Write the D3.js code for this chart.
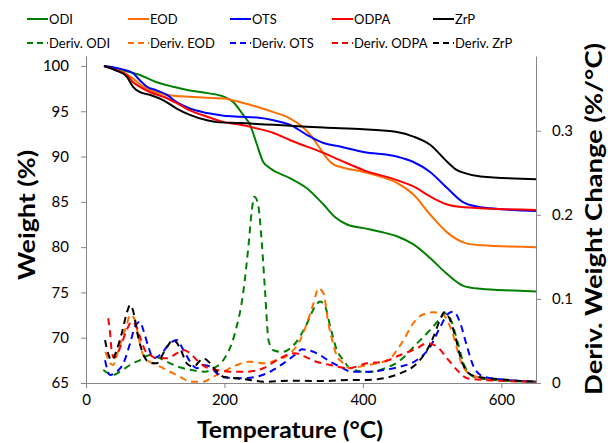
<!DOCTYPE html>
<html>
<head>
<meta charset="utf-8">
<script src="https://cdn.jsdelivr.net/npm/d3@7/dist/d3.min.js"></script>
<style>
  html, body { margin: 0; padding: 0; background: #fff; }
  svg { display: block; font-family: Lato, "Open Sans", sans-serif; }
</style>
</head>
<body>
<svg id="chart" width="608" height="443"></svg>
<script>
// Thermogravimetric weight curves (Temperature °C, Weight %)
const wODI  = [[26,100],[54,99.5],[78,99.0],[102,98.2],[126,97.7],[150,97.3],[175,97.0],[199,96.6],[213,96.0],[227,94.6],[237,93.5],[247,91.3],[256,89.4],[266,88.7],[295,87.6],[319,86.5],[343,84.7],[360,83.3],[377,82.5],[401,82.1],[425,81.7],[449,81.2],[473,80.3],[497,78.8],[522,77.0],[546,75.7],[570,75.4],[618,75.2],[650,75.1]];
const wEOD  = [[26,100],[54,99.3],[68,98.6],[83,97.7],[102,97.1],[126,96.7],[150,96.6],[175,96.5],[199,96.4],[223,96.0],[247,95.5],[271,94.9],[295,94.2],[309,93.5],[324,92.4],[338,90.9],[348,89.8],[358,89.1],[370,88.8],[401,88.3],[425,87.8],[449,87.1],[473,85.8],[497,83.6],[522,81.6],[546,80.5],[570,80.2],[650,80.0]];
const wOTS  = [[26,100],[54,99.6],[68,99.2],[78,98.4],[88,97.7],[102,97.3],[117,96.8],[131,96.0],[150,95.3],[175,94.8],[199,94.5],[223,94.4],[247,94.3],[271,94.0],[295,93.5],[319,92.4],[343,91.5],[367,91.1],[401,90.5],[449,90.0],[473,89.4],[497,88.3],[522,86.5],[546,84.9],[570,84.4],[650,84.0]];
const wODPA = [[26,100],[44,99.5],[59,99.0],[68,98.2],[78,97.7],[93,97.1],[112,96.6],[131,95.9],[150,95.1],[175,94.4],[199,93.8],[223,93.5],[247,93.1],[271,92.6],[295,91.8],[319,91.1],[343,90.4],[367,89.6],[401,88.5],[449,87.4],[473,86.7],[497,85.6],[522,84.7],[546,84.4],[650,84.1]];
const wZrP  = [[26,100],[44,99.5],[59,98.8],[68,97.7],[78,97.1],[93,96.8],[112,96.2],[131,95.3],[150,94.6],[175,94.0],[189,93.8],[223,93.7],[247,93.6],[271,93.5],[295,93.4],[319,93.3],[343,93.2],[401,93.0],[449,92.7],[473,92.2],[497,91.3],[522,89.4],[536,88.5],[546,88.2],[570,87.8],[650,87.5]];

// Derivative weight change curves (Temperature °C, %/°C)
const dODI  = [[25,0.0155],[39.5,0.0095],[49,0.0134],[63.6,0.0214],[78,0.0273],[92.5,0.0333],[102,0.031],[116.7,0.0253],[133,0.0194],[152,0.0155],[172,0.0134],[184,0.0175],[198.5,0.0273],[215,0.059],[227,0.107],[235,0.166],[239.6,0.206],[243.3,0.2215],[248.2,0.2137],[254,0.166],[258.8,0.107],[263.6,0.051],[270.8,0.039],[283,0.037],[302,0.047],[317,0.067],[331,0.091],[338,0.097],[345.5,0.091],[352.8,0.067],[362.4,0.039],[372,0.027],[382,0.017],[406,0.013],[430,0.017],[454,0.027],[478,0.047],[497,0.063],[512,0.077],[519,0.083],[526,0.077],[536,0.051],[545.5,0.023],[560,0.0075],[584,0.004],[650,0.0015]];
const dEOD  = [[28,0.037],[37,0.022],[39.5,0.0214],[44.4,0.033],[51.6,0.051],[58.8,0.069],[63.6,0.081],[70.8,0.075],[75.6,0.055],[82.8,0.033],[92.5,0.025],[107,0.0194],[121.4,0.0134],[135.9,0.0075],[150.4,0.0015],[169.6,0.0015],[184,0.0075],[198.5,0.0134],[218,0.0214],[237,0.0253],[256.3,0.0234],[275.7,0.0273],[295,0.0353],[309.4,0.051],[319,0.0709],[328.6,0.0948],[335.8,0.1126],[343,0.1067],[350.3,0.07],[357.5,0.045],[362.4,0.032],[369.7,0.025],[381.7,0.0175],[405.8,0.0214],[429.8,0.0253],[442,0.0313],[449.2,0.0392],[458.7,0.051],[470.9,0.069],[485.3,0.0809],[502.1,0.0841],[514.2,0.0829],[521.5,0.0749],[531,0.0551],[540.7,0.0273],[552.7,0.0115],[574.4,0.0056],[598.5,0.0036],[650,0.0015]];
const dOTS  = [[27.5,0.027],[34.7,0.0095],[44.4,0.0134],[54,0.0234],[63.6,0.047],[70.8,0.067],[78,0.0729],[82.8,0.063],[90,0.0432],[97.3,0.0294],[107,0.0333],[121.4,0.0472],[131.1,0.0511],[140.7,0.0392],[150.4,0.0253],[160,0.0175],[169.6,0.0214],[179.3,0.0194],[189,0.0115],[198.5,0.0068],[222.6,0.0056],[246.8,0.0075],[266,0.0134],[285.2,0.0234],[304.6,0.0353],[311.8,0.040],[333.5,0.0353],[352.8,0.0253],[367,0.0194],[384,0.0134],[405.8,0.0134],[429.8,0.0155],[454,0.0194],[478,0.0273],[497.3,0.0432],[511.8,0.0669],[523.8,0.0829],[531,0.0848],[540.7,0.071],[550.4,0.0432],[560,0.0194],[574.4,0.0075],[598.5,0.0044],[650,0.0015]];
const dODPA = [[32,0.077],[34.5,0.062],[37.6,0.035],[41,0.03],[51.6,0.0472],[58.8,0.063],[66,0.0729],[73,0.0669],[78,0.055],[85,0.0392],[92.5,0.0333],[102,0.0294],[116.7,0.0294],[131.1,0.0353],[140.7,0.0392],[150.4,0.0353],[160,0.0273],[172,0.0194],[189,0.0155],[208,0.0134],[232,0.0134],[256,0.0175],[276,0.0273],[290,0.0333],[302,0.0353],[316,0.0313],[333,0.0253],[352.8,0.0214],[379,0.0175],[405.8,0.0234],[429.8,0.0253],[454,0.0333],[478,0.0413],[492.6,0.0472],[507,0.0432],[521.5,0.0294],[535.9,0.0155],[550.4,0.0056],[574.4,0.0036],[650,0.0015]];
const dZrP  = [[27.5,0.051],[32,0.035],[37,0.0273],[44.4,0.0392],[51.6,0.059],[58.8,0.0829],[63.6,0.0927],[68.4,0.0848],[73.3,0.063],[80.5,0.0392],[90,0.0253],[102.2,0.0234],[114.2,0.0392],[126.2,0.0511],[135.9,0.0413],[145.6,0.0234],[155.1,0.0194],[169.6,0.0294],[179.3,0.0234],[189,0.0134],[198.5,0.0075],[217.9,0.0056],[237,0.0036],[256,0.0015],[295,0.0027],[343,0.0024],[381.7,0.0036],[405.8,0.0036],[429.8,0.0056],[454,0.0115],[478,0.0234],[492.6,0.0392],[502,0.0551],[509.3,0.071],[518,0.0841],[526,0.0749],[533.5,0.0551],[540.7,0.0313],[550.4,0.0134],[564.8,0.0075],[598.5,0.0044],[650,0.0015]];

const seriesNames = ["ODI", "EOD", "OTS", "ODPA", "ZrP"];
const seriesColors = ["#008000", "#ff6f00", "#0000ff", "#ff0000", "#000000"];
const weightData = [wODI, wEOD, wOTS, wODPA, wZrP];
const derivData = [dODI, dEOD, dOTS, dODPA, dZrP];

const xTicks = [0, 200, 400, 600];
const yLeftTicks = [65, 70, 75, 80, 85, 90, 95, 100];
const yRightTicks = [0, 0.1, 0.2, 0.3];

const svg = d3.select("#chart");
const plot = { left: 86, right: 536, top: 56, bottom: 383 };

const x = d3.scaleLinear().domain([0, 650]).range([plot.left, plot.right]);
const yL = d3.scaleLinear().domain([65, 101.1]).range([plot.bottom, plot.top]);
const yR = d3.scaleLinear().domain([0, 0.3889]).range([plot.bottom, plot.top]);

const axisColor = "#878787";
const tickFont = 15;

function styleAxis(g) {
  g.selectAll(".domain").attr("stroke", axisColor).attr("stroke-width", 1);
  g.selectAll(".tick line").attr("stroke", axisColor).attr("stroke-width", 1);
  g.selectAll(".tick text").attr("fill", "#000").style("font-size", tickFont + "px")
    .style("font-family", "Lato, 'Open Sans', sans-serif");
}

// Axes
const gx = svg.append("g").attr("transform", `translate(0,${plot.bottom})`)
  .call(d3.axisBottom(x).tickValues(xTicks).tickSize(5).tickSizeOuter(0).tickPadding(6).tickFormat(d3.format("d")));
styleAxis(gx);

const gyl = svg.append("g").attr("transform", `translate(${plot.left},0)`)
  .call(d3.axisLeft(yL).tickValues(yLeftTicks).tickSize(5).tickSizeOuter(0).tickPadding(12).tickFormat(d3.format("d")));
styleAxis(gyl);

const gyr = svg.append("g").attr("transform", `translate(${plot.right},0)`)
  .call(d3.axisRight(yR).tickValues(yRightTicks).tickSize(5).tickSizeOuter(0).tickPadding(11)
    .tickFormat(d => d === 0 ? "0" : d3.format(".1f")(d)));
styleAxis(gyr);

// Curves
const lineL = d3.line().x(d => x(d[0])).y(d => yL(d[1])).curve(d3.curveMonotoneX);
const lineR = d3.line().x(d => x(d[0])).y(d => yR(d[1])).curve(d3.curveMonotoneX);

const curves = svg.append("g").attr("fill", "none").attr("stroke-linejoin", "round");

derivData.forEach((data, i) => {
  curves.append("path").datum(data)
    .attr("d", lineR)
    .attr("stroke", seriesColors[i])
    .attr("stroke-width", 2)
    .attr("stroke-dasharray", "7,5");
});
weightData.forEach((data, i) => {
  curves.append("path").datum(data)
    .attr("d", lineL)
    .attr("stroke", seriesColors[i])
    .attr("stroke-width", 2);
});

// Axis titles
svg.append("text")
  .attr("transform", `translate(35,215) rotate(-90)`)
  .attr("text-anchor", "middle")
  .attr("textLength", 130).attr("lengthAdjust", "spacingAndGlyphs")
  .style("font-weight", "bold").style("font-size", "23px")
  .text("Weight (%)");

svg.append("text")
  .attr("x", 290).attr("y", 438)
  .attr("text-anchor", "middle")
  .attr("textLength", 186).attr("lengthAdjust", "spacingAndGlyphs")
  .style("font-weight", "bold").style("font-size", "23px")
  .text("Temperature (°C)");

svg.append("text")
  .attr("transform", `translate(602,219) rotate(-90)`)
  .attr("text-anchor", "middle")
  .attr("textLength", 352).attr("lengthAdjust", "spacingAndGlyphs")
  .style("font-weight", "bold").style("font-size", "23px")
  .text("Deriv. Weight Change (%/°C)");

// Legend: solid weight curves on row one, dashed derivatives on row two
const legendX = [27, 128, 230, 332, 433];
const legend = svg.append("g");
seriesNames.forEach((name, i) => {
  const lx = legendX[i];
  [["", null, 19], ["Deriv. ", "6,4", 43]].forEach(([prefix, dash, ly]) => {
    legend.append("line")
      .attr("x1", lx).attr("x2", lx + 21).attr("y1", ly).attr("y2", ly)
      .attr("stroke", seriesColors[i]).attr("stroke-width", 2)
      .attr("stroke-dasharray", dash);
    legend.append("text")
      .attr("x", lx + 22).attr("y", ly).attr("dy", "0.35em")
      .style("font-size", "13px")
      .text(prefix + name);
  });
});
</script>
</body>
</html>
